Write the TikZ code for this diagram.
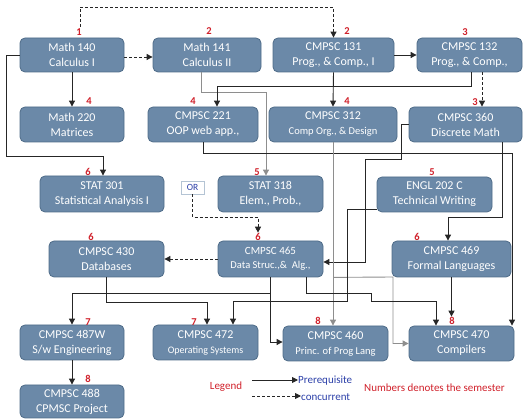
\documentclass[tikz,border=0pt]{standalone}
\usepackage{fontspec}
\setmainfont{Carlito}
\usetikzlibrary{arrows.meta,calc}
\definecolor{boxfill}{HTML}{6B89A8}
\definecolor{boxline}{HTML}{4E6B88}
\definecolor{semred}{HTML}{D0202A}
\definecolor{legblue}{HTML}{2B3FA8}
\definecolor{grayline}{HTML}{8E8E8E}
\definecolor{darkline}{HTML}{262626}
\definecolor{orline}{HTML}{B4C4D4}
\begin{document}
\begin{tikzpicture}[x=1pt,y=-1pt,
  course/.style={draw=boxline,fill=boxfill,rounded corners=5pt,line width=0.8pt,
    text=white,align=center,inner sep=0pt,font=\fontsize{12}{15}\selectfont},
  small/.style={font=\fontsize{10.5}{14}\selectfont},
  sem/.style={text=semred,font=\fontsize{10.5}{10}\selectfont\bfseries,inner sep=0.5pt},
  con/.style={draw=darkline,line width=0.9pt,-{Triangle[length=6pt,width=6pt]}},
  gcon/.style={con,draw=grayline},
  dsh/.style={dash pattern=on 3pt off 2pt},
  legtxt/.style={font=\fontsize{11}{11}\selectfont,inner sep=0pt}
]
\useasboundingbox (0,0) rectangle (525,419);

% course boxes
\node[course,minimum width=104pt,minimum height=34pt] (m140) at (72,55) {Math 140\\Calculus I};
\node[course,minimum width=108pt,minimum height=34pt] (m141) at (207,55) {Math 141\\Calculus II};
\node[course,minimum width=121pt,minimum height=34pt] (c131) at (333.5,55) {CMPSC 131\\Prog., \& Comp., I};
\node[course,minimum width=105pt,minimum height=34pt] (c132) at (469.5,55) {CMPSC 132\\Prog., \& Comp.,};
\node[course,minimum width=104pt,minimum height=35pt] (m220) at (72,124.5) {Math 220\\Matrices};
\node[course,minimum width=110pt,minimum height=35pt] (c221) at (203,124.5) {CMPSC 221\\OOP web app.,};
\node[course,minimum width=128pt,minimum height=35pt] (c312) at (333,124.5) {CMPSC 312\\{\fontsize{10.5}{14}\selectfont Comp Org., \& Design}};
\node[course,minimum width=113pt,minimum height=35pt] (c360) at (465.5,124.5) {CMPSC 360\\Discrete Math};
\node[course,minimum width=124pt,minimum height=36pt] (s301) at (102,194) {STAT 301\\Statistical Analysis I};
\node[draw=orline,fill=white,minimum width=23pt,minimum height=13pt,inner sep=0pt,
  text=legblue,font=\fontsize{9.5}{10}\selectfont] (or) at (192.5,187.5) {OR};
\node[course,minimum width=105pt,minimum height=36pt] (s318) at (270.5,194) {STAT 318\\Elem., Prob.,};
\node[course,minimum width=115pt,minimum height=35pt] (engl) at (434.5,194.5) {ENGL 202 C\\Technical Writing};
\node[course,minimum width=115pt,minimum height=36pt] (c430) at (106.5,259) {CMPSC 430\\Databases};
\node[course,minimum width=105pt,minimum height=36pt,small] (c465) at (270.5,259) {{\fontsize{11}{14}\selectfont CMPSC 465}\\Data Struc.,\&~~Alg.,};
\node[course,minimum width=119pt,minimum height=36pt] (c469) at (451.5,259) {CMPSC 469\\Formal Languages};
\node[course,minimum width=104pt,minimum height=35pt] (c487) at (72,342.5) {CMPSC 487W\\S/w Engineering};
\node[course,minimum width=105pt,minimum height=35pt] (c472) at (205.5,342.5) {CMPSC 472\\{\fontsize{10}{14}\selectfont Operating Systems}};
\node[course,minimum width=104pt,minimum height=33pt] (c488) at (72,401.5) {CMPSC 488\\CPMSC Project};
\node[course,minimum width=105pt,minimum height=35pt] (c460) at (335.5,343.5) {CMPSC 460\\{\fontsize{10.5}{14}\selectfont Princ. of Prog Lang}};
\node[course,minimum width=105pt,minimum height=35pt] (c470) at (461.5,343.5) {CMPSC 470\\Compilers};

% semester numbers
\node[sem] (l140) at (79,32) {1};
\node[sem] (l141) at (209,31) {2};
\node[sem] (l131) at (347,31) {2};
\node[sem] (l132) at (465,32) {3};
\node[sem] (l220) at (89,101) {4};
\node[sem] (l221) at (193,101) {4};
\node[sem] (l312) at (347,101) {4};
\node[sem] (l360) at (475,102) {3};
\node[sem] (l301) at (88,172) {6};
\node[sem] (l318) at (257,172) {5};
\node[sem] (lengl) at (432,172) {5};
\node[sem] (l430) at (91,237) {6};
\node[sem] (l465) at (258,237) {6};
\node[sem] (l469) at (417,237) {6};
\node[sem] (l487) at (88,322) {7};
\node[sem] (l472) at (194,322) {7};
\node[sem] (l488) at (88,379) {8};
\node[sem] (l460) at (318,321) {8};
\node[sem] (l470) at (452,321) {8};

% connectors
\draw[con,dsh] ([shift={(8,-11)}]m140.north) -- (80,7) -| (c131.north);
\draw[con,dsh] ([yshift=-2pt]m140.east) -- ([yshift=-2pt]m141.west);
\draw[con] (m140.south) -- (m220.north);
\draw[con] (m140.west) -| (6,156) -| ([xshift=1pt]s301.north);
\draw[gcon] ([xshift=-6pt]m141.south) |- (266,92) -- ([xshift=-4.5pt]s318.north);
\draw[con] (c131.east) -- (c132.west);
\draw[con] (c131.south) -- (c312.north);
\draw[con,dsh] ([xshift=12.5pt]c132.south) -- ([xshift=12.5pt]c132.south |- c360.north);
\draw[con] ([xshift=1.5pt]c132.south) -- ++(0,14) -| ([xshift=14pt]c221.north);
\draw[con] (c221.south) -- ++(0,11) -| ([xshift=50.5pt]c470.north);
\draw[con] ([xshift=36.5pt]c360.south) |- (448,217) -- ([xshift=-3.5pt]c469.north);
\draw[con] (c360.west) -- (401,124.5) |- (365,159) |- ([yshift=-3pt]c465.east);
\draw[gcon] (c312.south) -- (c312.south |- c460.north);
\draw[gcon] (c312.south |- c465.south) -- (393,277) |- (c470.west);
\draw[con] ([yshift=3pt]engl.south west) -| (347,301) -| ([xshift=27.5pt]c472.north);
\draw[con] (c465.south) |- ([yshift=1.5pt]c460.west);
\draw[con] (c465.south) -- ++(0,16) -| (c487.north);
\draw[con] ([xshift=35.5pt]c465.south) |- (371,293) -- (371,301) -| ([xshift=-25.5pt]c470.north);
\draw[con] (c430.south) -- ++(0,25) -| ([xshift=1.5pt]c472.north);
\draw[con] (c469.south) -- (c469.south |- l470.north);
\draw[con,dsh] (c465.west) -- (c430.east);
\draw[con,dsh] (or.south) -- ++(0,23) -| (l465.north);
\draw[con] (c487.south) -- (c488.north);

% legend
\node[legtxt,text=semred] (leg) at (226,387) {Legend};
\node[legtxt,text=legblue,anchor=west] (pre) at (298,381) {Prerequisite};
\node[legtxt,text=legblue,anchor=west] (cc) at (301,397) {concurrent};
\coordinate (ps) at (252,380);
\coordinate (cs) at (252,396);
\draw[con] (ps) -- (pre.west |- ps);
\draw[con,dsh] (cs) -- (cc.west |- cs);
\node[legtxt,text=semred] (num) at (434.5,388) {Numbers denotes the semester};
\end{tikzpicture}
\end{document}
